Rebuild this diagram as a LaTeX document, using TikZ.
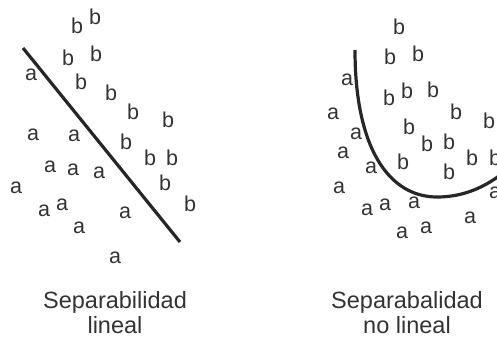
\documentclass[tikz,border=0pt]{standalone}
\usepackage{fontspec}
\setmainfont{Liberation Sans}
\begin{document}
\begin{tikzpicture}[x=1pt,y=-1pt,
  pt/.style={inner sep=0pt,anchor=center,text=black!80,font=\fontsize{21.5}{21.5}\selectfont},
  caption/.style={inner sep=0pt,align=center,text=black!80,font=\fontsize{23.5}{25}\selectfont},
  boundary/.style={line width=3.2pt,draw=black!85}]
\useasboundingbox (0,0) rectangle (497,341);

% ---- linear separation ----
\foreach \x/\y [count=\i] in {77/26,95/17,68/58,96/54,81/82,111/93,133/112,168/120,
    126/142,150/158,172/158,165/183,190/204}
  \node[pt] (lb\i) at (\x,\y) {b};
\foreach \x/\y [count=\i] in {31/75,33/135,74/136,50/167,73/170,99/173,16/188,
    44/211,62/205,125/213,79/228,115/258}
  \node[pt] (la\i) at (\x,\y) {a};
\coordinate (l1) at (23,48);
\coordinate (l2) at (180,242);
\draw[boundary] (l1) -- (l2);
\node[caption] (cl) at (115,313) {Separabilidad\\lineal};

% ---- non-linear separation ----
\foreach \x/\y [count=\i] in {399/27,390/57,418/54,389/98,407/91,433/90,456/112,
    489/121,409/127,427/144,449/142,403/162,472/158,495/158,449/172}
  \node[pt] (rb\i) at (\x,\y) {b};
\foreach \x/\y [count=\i] in {347/80,333/114,356/134,343/153,371/168,339/188,
    495/193,367/210,385/205,414/203,470/218,402/233,426/228}
  \node[pt] (ra\i) at (\x,\y) {a};
\coordinate (c1) at (355,50);
\coordinate (c2) at (437,197);
\coordinate (c3) at (499,176);
\draw[boundary] (c1) .. controls (355,150) and (390,197) .. (c2)
  .. controls (465,197) and (485,186) .. (c3);
\node[caption] (cr) at (407,313) {Separabalidad\\no lineal};
\end{tikzpicture}
\end{document}
